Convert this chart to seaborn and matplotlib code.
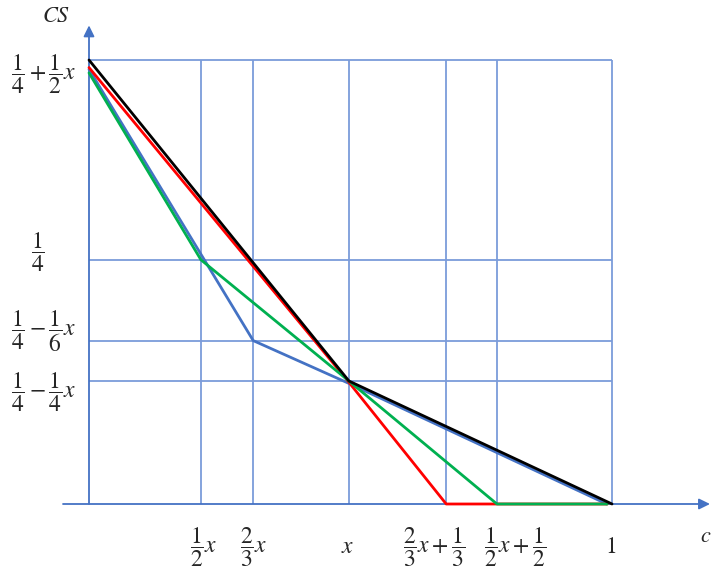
import matplotlib
matplotlib.use("Agg")
import matplotlib.pyplot as plt
import seaborn as sns

# Break points on the c axis and their labels
c_ticks = [0.214, 0.314, 0.497, 0.683, 0.780, 1.0]
c_labels = [r"$\dfrac{1}{2}x$", r"$\dfrac{2}{3}x$", r"$x$",
            r"$\dfrac{2}{3}x+\dfrac{1}{3}$", r"$\dfrac{1}{2}x+\dfrac{1}{2}$", r"$1$"]

# Levels on the CS axis and their labels
cs_ticks = [0.5, 0.275, 0.184, 0.1385]
cs_labels = [r"$\dfrac{1}{4}+\dfrac{1}{2}x$", r"$\dfrac{1}{4}$",
             r"$\dfrac{1}{4}-\dfrac{1}{6}x$", r"$\dfrac{1}{4}-\dfrac{1}{4}x$"]

# Consumer surplus as a function of c, one polyline per regime
blue_c = [0.0, 0.314, 0.497, 0.99]
blue_cs = [0.4895, 0.184, 0.1358, 0.0]
red_c = [0.0, 0.495, 0.683, 0.991]
red_cs = [0.4915, 0.1385, 0.0, 0.0]
green_c = [0.0, 0.214, 0.497, 0.780, 0.991]
green_cs = [0.4855, 0.275, 0.1385, 0.0, 0.0]
black_c = [0.0, 0.497, 1.0]
black_cs = [0.5, 0.1385, 0.0]

sns.set_style("white")
plt.rcParams["mathtext.fontset"] = "stix"
plt.rcParams["font.family"] = ["STIXGeneral", "DejaVu Serif"]

W, H = 715, 575
fig = plt.figure(figsize=(W / 100, H / 100), dpi=100)
ax = fig.add_axes([0, 0, 1, 1])
# origin sits at pixel (89, 504); one c unit = 523 px, one CS unit = 888 px
ax.set_xlim(-89 / 523, (W - 89) / 523)
ax.set_ylim(-(H - 504) / 888, 504 / 888)
ax.axis("off")

axis_col = "#4472C4"
grid_col = "#7B9CDA"

# grid
ax.vlines(c_ticks, 0, cs_ticks[0], color=grid_col, lw=1.3, zorder=1)
ax.hlines(cs_ticks, 0, c_ticks[-1], color=grid_col, lw=1.3, zorder=1)

# axes with arrow heads
arrow = dict(arrowstyle="-|>,head_length=0.65,head_width=0.32", color=axis_col,
             lw=1.3, shrinkA=0, shrinkB=0)
ax.annotate("", xy=(1.1874, 0), xytext=(-0.0497, 0), arrowprops=arrow, zorder=2)
ax.annotate("", xy=(0, 0.539), xytext=(0, 0), arrowprops=arrow, zorder=2)

# curves
lw = 2.0
for cx, cy, col in [(blue_c, blue_cs, "#4472C4"), (red_c, red_cs, "#FF0000"),
                    (green_c, green_cs, "#00B050"), (black_c, black_cs, "#000000")]:
    sns.lineplot(x=cx, y=cy, sort=False, estimator=None, color=col, lw=lw,
                 ax=ax, zorder=3, legend=False)

# tick labels
fs = 17
c_dx = [3, 0, -1, -12, 18, -1]
for t, lab, dx in zip(c_ticks, c_labels, c_dx):
    ax.annotate(lab, xy=(t, 0), xytext=(dx, -43), textcoords="offset pixels",
                ha="center", va="center", fontsize=fs)

cs_dx = [-45, -51, -45, -45]
cs_dy = [-14, 7, 9, -11]
for t, lab, dx, dy in zip(cs_ticks, cs_labels, cs_dx, cs_dy):
    ax.annotate(lab, xy=(0, t), xytext=(dx, dy), textcoords="offset pixels",
                ha="center", va="center", fontsize=fs)

# axis names
fig.text(56 / W, 1 - 17 / H, r"$CS$", ha="center", va="center", fontsize=16)
fig.text(706 / W, 1 - 537 / H, r"$c$", ha="center", va="center", fontsize=16)

fig.savefig("out.png", dpi=100)
